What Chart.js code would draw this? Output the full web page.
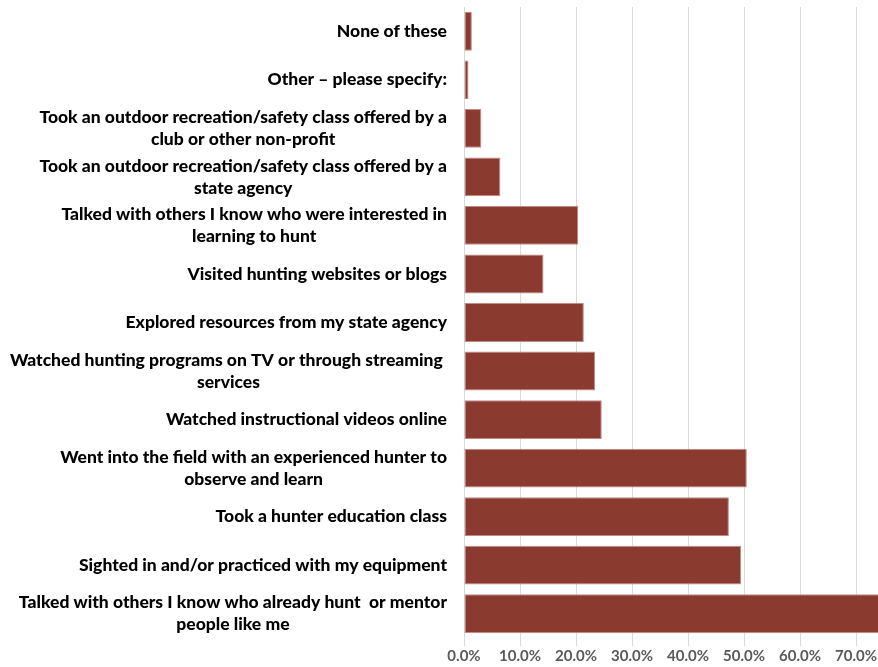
<!DOCTYPE html>
<html>
<head>
<meta charset="utf-8">
<title>Steps taken before hunting</title>
<script src="https://cdn.jsdelivr.net/npm/chart.js@4/dist/chart.umd.min.js"></script>
<style>
  html, body { margin: 0; padding: 0; background: #fff; overflow: hidden; }
  /* the 80% end of the axis runs past the window edge on purpose */
  .wrap { position: relative; width: 952px; height: 667px; }
</style>
</head>
<body>
<div class="wrap"><canvas id="myChart"></canvas></div>
<script>
//Answer options, top to bottom (arrays = wrapped lines)
const categories = [
  'None of these',
  'Other \u2013 please specify:',
  ['Took an outdoor recreation/safety class offered by a', 'club or other non-profit'],
  ['Took an outdoor recreation/safety class offered by a', 'state agency'],
  ['Talked with others I know who were interested in', 'learning to hunt'],
  'Visited hunting websites or blogs',
  'Explored resources from my state agency',
  ['Watched hunting programs on TV or through streaming ', 'services'],
  'Watched instructional videos online',
  ['Went into the field with an experienced hunter to', 'observe and learn'],
  'Took a hunter education class',
  'Sighted in and/or practiced with my equipment',
  ['Talked with others I know who already hunt  or mentor', 'people like me']
];

//Share of respondents, in percent
const percents = [1.4, 0.8, 3.1, 6.5, 20.4, 14.2, 21.4, 23.4, 24.6, 50.5, 47.3, 49.5, 75.0];

//x axis ticks
const tickMin = 0;
const tickMax = 80;
const tickStep = 10;

const barColor = '#8b3a30';
const labelFont = '900 17.5px Lato';
const labelLineH = 22;
const labelRight = 447;

//Draws the category names: each one is a centered block, pushed against the axis
const categoryLabels = {
  id: 'categoryLabels',
  afterDraw(chart) {
    const ctx = chart.ctx;
    const yScale = chart.scales.y;
    ctx.save();
    ctx.font = labelFont;
    ctx.fillStyle = '#000';
    ctx.textAlign = 'center';
    ctx.textBaseline = 'middle';
    categories.forEach(function (lab, i) {
      const lines = Array.isArray(lab) ? lab : [lab];
      const widest = Math.max(...lines.map(l => ctx.measureText(l).width));
      const cx = labelRight - widest / 2;
      const top = yScale.getPixelForTick(i) - (lines.length - 1) * labelLineH / 2;
      lines.forEach(function (line, j) {
        ctx.fillText(line, cx, top + j * labelLineH);
      });
    });
    ctx.restore();
  }
};

const ctx = document.getElementById('myChart').getContext('2d');
const myChart = new Chart(ctx, {
  type: 'bar',
  data: {
    labels: categories,
    datasets: [{
      data: percents,
      backgroundColor: barColor,
      borderColor: '#c08a84',
      borderWidth: 1,
      borderSkipped: false,
      barPercentage: 0.8,
      categoryPercentage: 1.0
    }]
  },
  options: {
    indexAxis: 'y',
    responsive: true,
    maintainAspectRatio: false,
    animation: false,
    layout: {
      padding: { top: 7, right: 40, left: 0, bottom: 0 }
    },
    plugins: {
      legend: { display: false },
      tooltip: { enabled: false }
    },
    scales: {
      x: {
        min: tickMin,
        max: tickMax,
        ticks: {
          stepSize: tickStep,
          color: '#595959',
          font: { family: 'Lato', size: 15, weight: 'bold', lineHeight: 1.0 },
          padding: 3,
          callback: v => v.toFixed(1) + '%'
        },
        grid: {
          color: '#d9d9d9',
          lineWidth: 1,
          tickLength: 8
        },
        border: { display: false }
      },
      y: {
        ticks: { display: false },
        grid: { display: false },
        border: { display: false },
        afterFit: function (scale) {
          scale.width = 464;
        }
      }
    }
  },
  plugins: [categoryLabels]
});
</script>
</body>
</html>
